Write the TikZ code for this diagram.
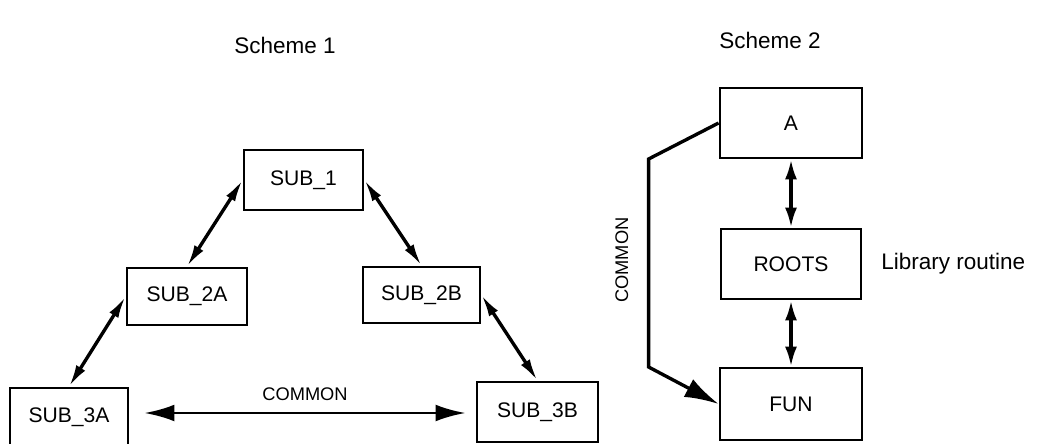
\documentclass[tikz,border=0pt]{standalone}
\usepackage{fontspec}
\setmainfont{Liberation Sans}
\usepackage{tikz}
\usetikzlibrary{positioning}
\usetikzlibrary{calc}
\usetikzlibrary{arrows.meta}

\begin{document}
\begin{tikzpicture}[
            x=0.25mm, y=-0.25mm,
            box/.style={rectangle,draw=black,line width=2pt,fill=white,inner sep=0pt,font=\fontsize{15}{17}\selectfont},
            title/.style={font=\fontsize{16}{19}\selectfont},
            link/.style={line width=2.4pt,{Latex[length=5.5mm,width=2.6mm]}-{Latex[length=5.5mm,width=2.6mm]}},
            vlink/.style={line width=2.4pt,{Latex[length=5mm,width=3mm]}-{Latex[length=5mm,width=3mm]}},
            commonArrow/.style={line width=2pt,{Latex[length=7.5mm,width=4.2mm]}-{Latex[length=7.5mm,width=4.2mm]}},
            commonPath/.style={line width=2.4pt,-{Latex[length=8.5mm,width=5mm]}},
            commonLabel/.style={font=\fontsize{13}{15}\selectfont},
        ]
            \useasboundingbox (0,0) rectangle (1039,443);

            %--- Titles ---%
            \node[title] (t1) at (285,45) {Scheme 1};
            \node[title] (t2) at (770,40) {Scheme 2};

            %--- Scheme 1 boxes ---%
            \node[box,minimum width=29.75mm,minimum height=15mm]   (sub1)  at (303.5,180) {SUB\_1};
            \node[box,minimum width=30mm,minimum height=14.25mm]   (sub2a) at (187,296.5) {SUB\_2A};
            \node[box,minimum width=29.25mm,minimum height=14mm]   (sub2b) at (421.5,295) {SUB\_2B};
            \node[box,minimum width=29.5mm,minimum height=14.5mm]  (sub3a) at (69,417)    {SUB\_3A};
            \node[box,minimum width=30.25mm,minimum height=15mm]   (sub3b) at (537.5,412) {SUB\_3B};

            %--- Scheme 1 calls ---%
            \draw[link] (sub1.west) -- (sub2a.north);
            \draw[link] (sub1.east) -- (sub2b.north);
            \draw[link] (sub2a.west) -- (sub3a.north);
            \draw[link] (sub2b.east) -- (sub3b.north);

            %--- Shared COMMON block ---%
            \draw[commonArrow] ($(sub3a.east)+(15,-4)$) -- ($(sub3b.west)+(-10,1)$)
                node[commonLabel,midway,above=1.5mm] (c1) {COMMON};

            %--- Scheme 2 boxes ---%
            \node[box,minimum width=35.5mm,minimum height=17.5mm] (a)     at (791,123) {A};
            \node[box,minimum width=35mm,minimum height=17.5mm]   (roots) at (791,264) {ROOTS};
            \node[box,minimum width=35.5mm,minimum height=18mm]   (fun)   at (791,404) {FUN};
            \node[title,right=3.5mm of roots] (lib) {Library routine};

            %--- Scheme 2 calls ---%
            \draw[vlink] (a.south) -- (roots.north);
            \draw[vlink] (roots.south) -- (fun.north);
            \draw[commonPath] (a.west) -- ++(-70,36) -- ++(0,101)
                node[commonLabel,rotate=90,anchor=south,yshift=3.5mm] (c2) {COMMON} -- ++(0,107) -- (fun.west);

        \end{tikzpicture}
\end{document}
